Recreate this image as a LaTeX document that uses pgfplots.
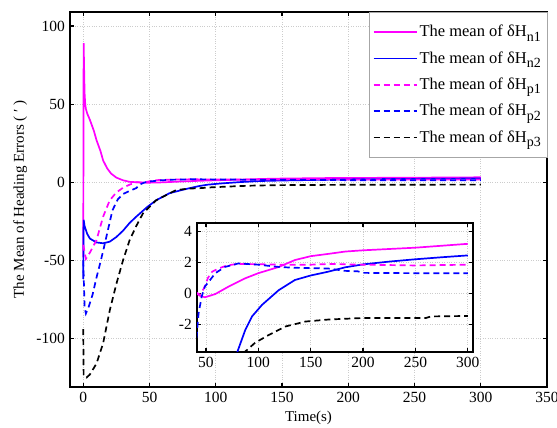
\documentclass[border=0pt]{standalone}
\usepackage{fontspec}
\setmainfont{Liberation Serif}
\usepackage{pgfplots}
\usepackage{pgfplotstable}
\pgfplotsset{compat=1.18}
\definecolor{mag}{RGB}{255,0,255}
\definecolor{blu}{RGB}{0,0,255}

\pgfplotstableread{
t y
0 -48
0.3 89
1 57
1.5 50
2 47
3 44
5 40
8 33
10 27
13 20
15 14
18 9
21 5.6
25 3
30 1.3
35 0.3
40 0.05
44 -0.15
49 -0.26
59 -0.05
71.6 0.43
87.6 0.97
100 1.3
119.5 1.7
135 2.15
150 2.4
167 2.55
183 2.7
200 2.78
250 2.95
300 3.2
}\nA

\pgfplotstableread{
t y
0 -62
0.3 -24
1 -28
3 -33
5 -36
10 -38.5
15 -39
20 -38
25 -35
30 -31
35 -26
40 -22
48 -16
55 -11.5
65 -7
75 -4.8
80 -3.8
87.6 -2.37
94 -1.5
103.6 -0.75
119.5 0.2
135 0.86
150 1.15
167 1.4
183 1.68
200 1.87
225 2.05
250 2.2
275 2.33
300 2.45
}\nB

\pgfplotstableread{
t y
0 -40
2 -49
5 -45
10 -37
15 -22
20 -11.5
25 -6.5
30 -3.5
35 -1.5
40 0.1
44 -0.1
48 0.3
52 1.0
56 1.4
62 1.6
70 1.8
80 1.9
100 1.88
120 1.85
150 1.85
170 1.9
200 1.85
250 1.8
300 1.85
}\pA

\pgfplotstableread{
t y
0 -50
1 -80
2 -84
4 -80
7 -72
10 -61
13 -51
15 -44
18.5 -31
22 -18
26 -11
30 -7.5
35 -5.5
40 -3.7
43 -1.3
46 -0.2
49 0.43
54 0.86
59 1.3
68 1.7
81 1.93
100 1.85
120 1.7
135 1.65
167 1.6
183 1.45
195 1.42
200 1.32
250 1.3
300 1.3
}\pB

\pgfplotstableread{
t y
0 -94
0.3 -124
2.4 -125
5 -123
10 -116
15 -103
20 -82
25 -65
30 -50
35 -37
40 -28
45 -20
55 -11.5
70 -5
80 -4
87.6 -3.77
97 -3.2
110 -2.7
126 -2.15
145 -1.83
167 -1.7
200 -1.6
260 -1.6
265 -1.5
300 -1.47
}\pC

\newcommand{\sub}[1]{\raisebox{-0.55ex}{\fontsize{14}{15}\selectfont #1}}

\begin{document}
\fontsize{15}{18}\selectfont
\begin{tikzpicture}
\pgfplotsset{
  every axis/.append style={
    scale only axis,
    tick align=inside,
    grid=major,
    grid style={gray!40, dotted, line width=0.6pt},
    axis line style={line width=1.2pt},
    major tick length=4pt,
    every tick/.style={black, line width=1.2pt},
    /pgf/number format/assume math mode=true,
    ticklabel style={font=\fontsize{15.5}{18}\selectfont},
    label style={font=\fontsize{15}{18}\selectfont},
  },
}
\begin{axis}[name=main, width=477pt, height=375pt,
  xmin=-10, xmax=350, ymin=-131, ymax=109,
  xtick={0,50,...,350}, ytick={-100,-50,0,50,100},
  xlabel={Time(s)}, ylabel={The Mean of Heading Errors ( ′ )},
  xlabel style={yshift=2pt},
  ylabel style={yshift=-1pt},
  legend cell align=left,
  legend style={at={(rel axis cs:1,1)}, anchor=north east, draw=gray!70, line width=0.5pt,
    font=\fontsize{16.5}{19}\selectfont, row sep=8.5pt, inner xsep=4pt, inner ysep=11pt},
  legend image code/.code={\draw[#1] (0pt,0pt) -- (43pt,0pt);},
]
\addplot[mag, line width=1.7pt] table {\nA};
\addlegendentry{The mean of δH\sub{n1}}
\addplot[blu, line width=1.7pt] table {\nB};
\addlegendentry{The mean of δH\sub{n2}}
\addplot[mag, line width=1.7pt, dash pattern=on 6pt off 4pt] table {\pA};
\addlegendentry{The mean of δH\sub{p1}}
\addplot[blu, line width=1.7pt, dash pattern=on 6pt off 4pt] table {\pB};
\addlegendentry{The mean of δH\sub{p2}}
\addplot[black, line width=1.7pt, dash pattern=on 6pt off 4pt] table {\pC};
\addlegendentry{The mean of δH\sub{p3}}
\end{axis}
\begin{axis}[name=inset, at={(main.south west)}, anchor=south west, xshift=127pt, yshift=35pt,
  width=276pt, height=129pt,
  xmin=41.5, xmax=305, ymin=-3.8, ymax=4.55,
  xtick={50,100,...,300}, ytick={-2,0,2,4},
  axis background/.style={fill=white},
  clip=true,
]
\addplot[mag, line width=1.7pt] table {\nA};
\addplot[blu, line width=1.7pt] table {\nB};
\addplot[mag, line width=1.7pt, dash pattern=on 6pt off 4pt] table {\pA};
\addplot[blu, line width=1.7pt, dash pattern=on 6pt off 4pt] table {\pB};
\addplot[black, line width=1.7pt, dash pattern=on 6pt off 4pt] table {\pC};
\end{axis}
\pgfresetboundingbox
\path ([shift={(-70pt,-41pt)}]main.south west) rectangle ([shift={(10pt,12pt)}]main.north east);
\end{tikzpicture}
\end{document}
